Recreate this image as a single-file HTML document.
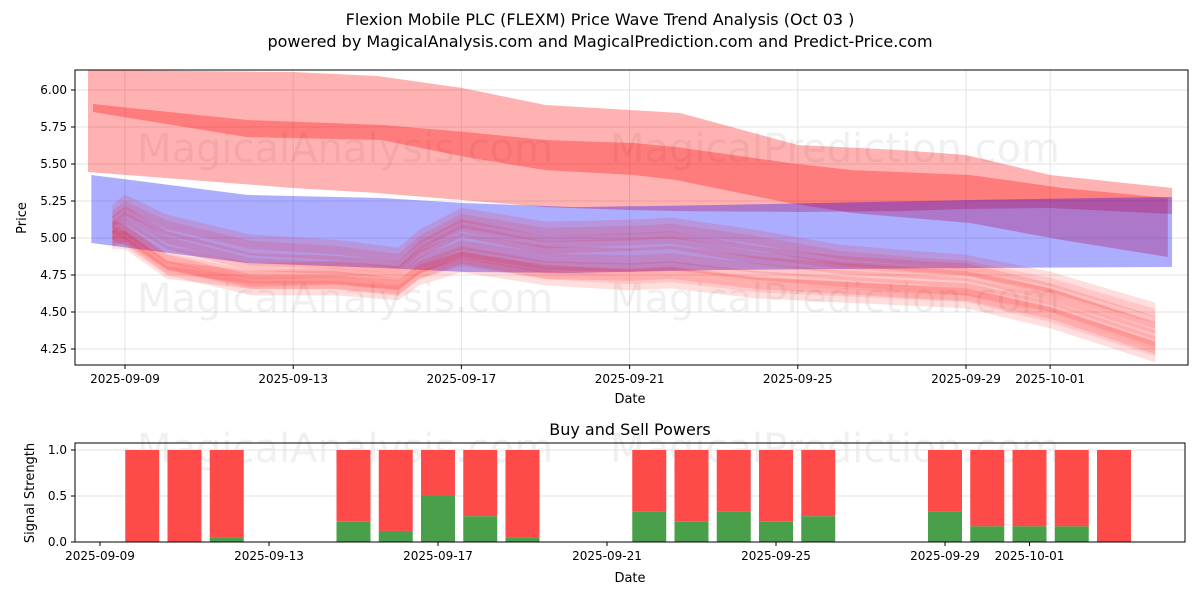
<!DOCTYPE html>
<html><head><meta charset="utf-8"><style>
body{margin:0;background:#fff;}
svg text{font-family:"DejaVu Sans","Liberation Sans",sans-serif;}
</style></head><body>
<svg id="c" width="1200" height="600" xmlns="http://www.w3.org/2000/svg">
<rect width="1200" height="600" fill="#fff"/>
<text x="600" y="25" text-anchor="middle" font-size="16">Flexion Mobile PLC (FLEXM) Price Wave Trend Analysis (Oct 03 )</text>
<text x="600" y="47" text-anchor="middle" font-size="16">powered by MagicalAnalysis.com and MagicalPrediction.com and Predict-Price.com</text>
<g id="topPanel"></g>
<g id="botPanel"></g>
</svg>
<script>
// ---- price chart data (days from 2025-09-09) ----
const yTicks=[4.25,4.50,4.75,5.00,5.25,5.50,5.75,6.00];
const xTickDays=[0,4,8,12,16,20,22];
const xTickLabels=["2025-09-09","2025-09-13","2025-09-17","2025-09-21","2025-09-25","2025-09-29","2025-10-01"];
const outerDays=[-0.88,4,6,8,10,12,13.2,16,18.4,20,22,24.9];
const outerUpper=[6.135,6.122,6.095,6.014,5.899,5.865,5.845,5.628,5.595,5.561,5.426,5.338];
const outerLower=[5.446,5.338,5.304,5.257,5.209,5.189,5.182,5.176,5.182,5.196,5.203,5.162];
const innerDays=[-0.76,2.9,6.1,8.1,10.0,12.1,13.1,15.8,17.3,20.1,22.3,24.8];
const innerUpper=[5.905,5.797,5.764,5.716,5.662,5.642,5.615,5.507,5.459,5.426,5.338,5.270];
const innerLower=[5.851,5.682,5.662,5.547,5.459,5.426,5.392,5.236,5.169,5.101,4.986,4.872];
const blueDays=[-0.8,2.9,6.1,8.1,10.7,14.1,20.1,24.9];
const blueUpper=[5.426,5.291,5.270,5.236,5.209,5.223,5.257,5.277];
const blueLower=[4.966,4.831,4.797,4.770,4.764,4.784,4.797,4.804];
const waveDays=[-0.3,0,1,3,5,6.5,7,8,10,12,13,15,17,19,20,22,24.5];
const waveA=[5.155,5.223,5.088,4.953,4.919,4.865,4.986,5.135,5.041,5.054,5.068,4.986,4.885,4.838,4.818,4.703,4.493];
const waveB=[5.088,5.155,4.986,4.838,4.818,4.784,4.919,5.068,4.953,4.973,4.986,4.885,4.818,4.784,4.770,4.635,4.412];
const waveC=[5.020,5.054,4.865,4.750,4.764,4.730,4.838,4.953,4.865,4.851,4.865,4.797,4.750,4.716,4.696,4.581,4.345];
const waveD=[4.986,4.986,4.784,4.716,4.716,4.669,4.784,4.885,4.784,4.770,4.784,4.716,4.682,4.649,4.635,4.514,4.277];
const waveE=[5.054,5.020,4.818,4.682,4.682,4.649,4.750,4.838,4.750,4.716,4.730,4.662,4.635,4.608,4.595,4.460,4.230];
// ---- signal data ----
const sigDays=[1,2,3,6,7,8,9,10,13,14,15,16,17,20,21,22,23,24];
const buyPower=[0,0,0.05,0.22,0.12,0.5,0.28,0.05,0.33,0.22,0.33,0.22,0.28,0.33,0.17,0.17,0.17,0];
const sigTicks=[0,0.5,1.0];

const NS="http://www.w3.org/2000/svg";
function mk(p,t,a){const e=document.createElementNS(NS,t);for(const k in a)e.setAttribute(k,a[k]);p.appendChild(e);return e;}
const topG=document.getElementById('topPanel'),botG=document.getElementById('botPanel');
const L=75,R=1188,T=70,B=365;
const X=d=>125+d*42.05, Y=p=>90+(6-p)*148;
yTicks.forEach(v=>{const g=mk(topG,'line',{x1:L,x2:R,y1:Y(v),y2:Y(v),stroke:'#e3e3e3','stroke-width':1});

const t=mk(topG,'text',{x:L-8,y:Y(v)+4,'text-anchor':'end','font-size':12});t.textContent=v.toFixed(2);

mk(topG,'line',{x1:L-4,x2:L,y1:Y(v),y2:Y(v),stroke:'#000'});});
xTickDays.forEach((d,i)=>{const g=mk(topG,'line',{x1:X(d),x2:X(d),y1:T,y2:B,stroke:'#e3e3e3'});

mk(topG,'line',{x1:X(d),x2:X(d),y1:B,y2:B+4,stroke:'#000'});
const t=mk(topG,'text',{x:X(d),y:B+18,'text-anchor':'middle','font-size':12});t.textContent=xTickLabels[i];
});
[[345,162],[835,162],[345,312],[835,312]].forEach((p,i)=>{const t=mk(topG,'text',{x:p[0],y:p[1],'text-anchor':'middle','font-size':40,fill:'#000','fill-opacity':0.06});
t.textContent=i%2?'MagicalPrediction.com':'MagicalAnalysis.com';
});
function band(days,up,lo,fill,name){
 let pts=days.map((d,i)=>X(d)+','+Y(up[i]));
 pts=pts.concat(days.map((d,i)=>X(d)+','+Y(lo[i])).reverse());
 const e=mk(topG,'polygon',{points:pts.join(' '),fill:fill});
 }
band(outerDays,outerUpper,outerLower,'rgba(255,0,0,0.3)','outer-red-band');
band(innerDays,innerUpper,innerLower,'rgba(255,0,0,0.3)','inner-red-band');
band(blueDays,blueUpper,blueLower,'rgba(0,0,255,0.32)','blue-band');
[waveA,waveB,waveC,waveD,waveE].forEach((w,k)=>{
 const hw=[0.07,0.06,0.08,0.06,0.07][k];
 band(waveDays,w.map(v=>v+hw),w.map(v=>v-hw),'rgba(255,0,0,0.13)','wave-band');
 band(waveDays,w.map(v=>v+hw*0.4),w.map(v=>v-hw*0.4),'rgba(255,0,0,0.1)','wave-core');
});
mk(topG,'rect',{x:L,y:T,width:R-L,height:B-T,fill:'none',stroke:'#000','stroke-width':1});
let t=mk(topG,'text',{x:630,y:403,'text-anchor':'middle','font-size':13});t.textContent='Date';

t=mk(topG,'text',{x:26,y:218,'text-anchor':'middle','font-size':13,transform:'rotate(-90 26 218)'});t.textContent='Price';


const L2=75,R2=1185,T2=443,B2=542;
const X2=d=>100+d*42.25, Y2=v=>542-v*92;
t=mk(botG,'text',{x:630,y:435,'text-anchor':'middle','font-size':16});t.textContent='Buy and Sell Powers';

[[345,462],[835,462]].forEach((p,i)=>{const w=mk(botG,'text',{x:p[0],y:p[1],'text-anchor':'middle','font-size':40,'fill-opacity':0.06});
w.textContent=i?'MagicalPrediction.com':'MagicalAnalysis.com';
});
sigTicks.forEach(v=>{const g=mk(botG,'line',{x1:L2,x2:R2,y1:Y2(v),y2:Y2(v),stroke:'#e3e3e3'});

mk(botG,'line',{x1:L2-4,x2:L2,y1:Y2(v),y2:Y2(v),stroke:'#000'});
const s=mk(botG,'text',{x:L2-8,y:Y2(v)+4,'text-anchor':'end','font-size':12});s.textContent=v.toFixed(1);
});
xTickDays.forEach((d,i)=>{mk(botG,'line',{x1:X2(d),x2:X2(d),y1:B2,y2:B2+4,stroke:'#000'});
const s=mk(botG,'text',{x:X2(d),y:B2+18,'text-anchor':'middle','font-size':12});s.textContent=xTickLabels[i];
});
sigDays.forEach((d,i)=>{const x=X2(d)-17;
 const r=mk(botG,'rect',{x:x,y:Y2(1),width:34,height:Y2(buyPower[i])-Y2(1),fill:'#ff4a4a'});
 
 const g=mk(botG,'rect',{x:x,y:Y2(buyPower[i]),width:34,height:Y2(0)-Y2(buyPower[i]),fill:'#4aa04a'});
 });
mk(botG,'rect',{x:L2,y:T2,width:R2-L2,height:B2-T2,fill:'none',stroke:'#000'});
t=mk(botG,'text',{x:630,y:582,'text-anchor':'middle','font-size':13});t.textContent='Date';

t=mk(botG,'text',{x:34,y:493,'text-anchor':'middle','font-size':13,transform:'rotate(-90 34 493)'});t.textContent='Signal Strength';

</script>
</body></html>
